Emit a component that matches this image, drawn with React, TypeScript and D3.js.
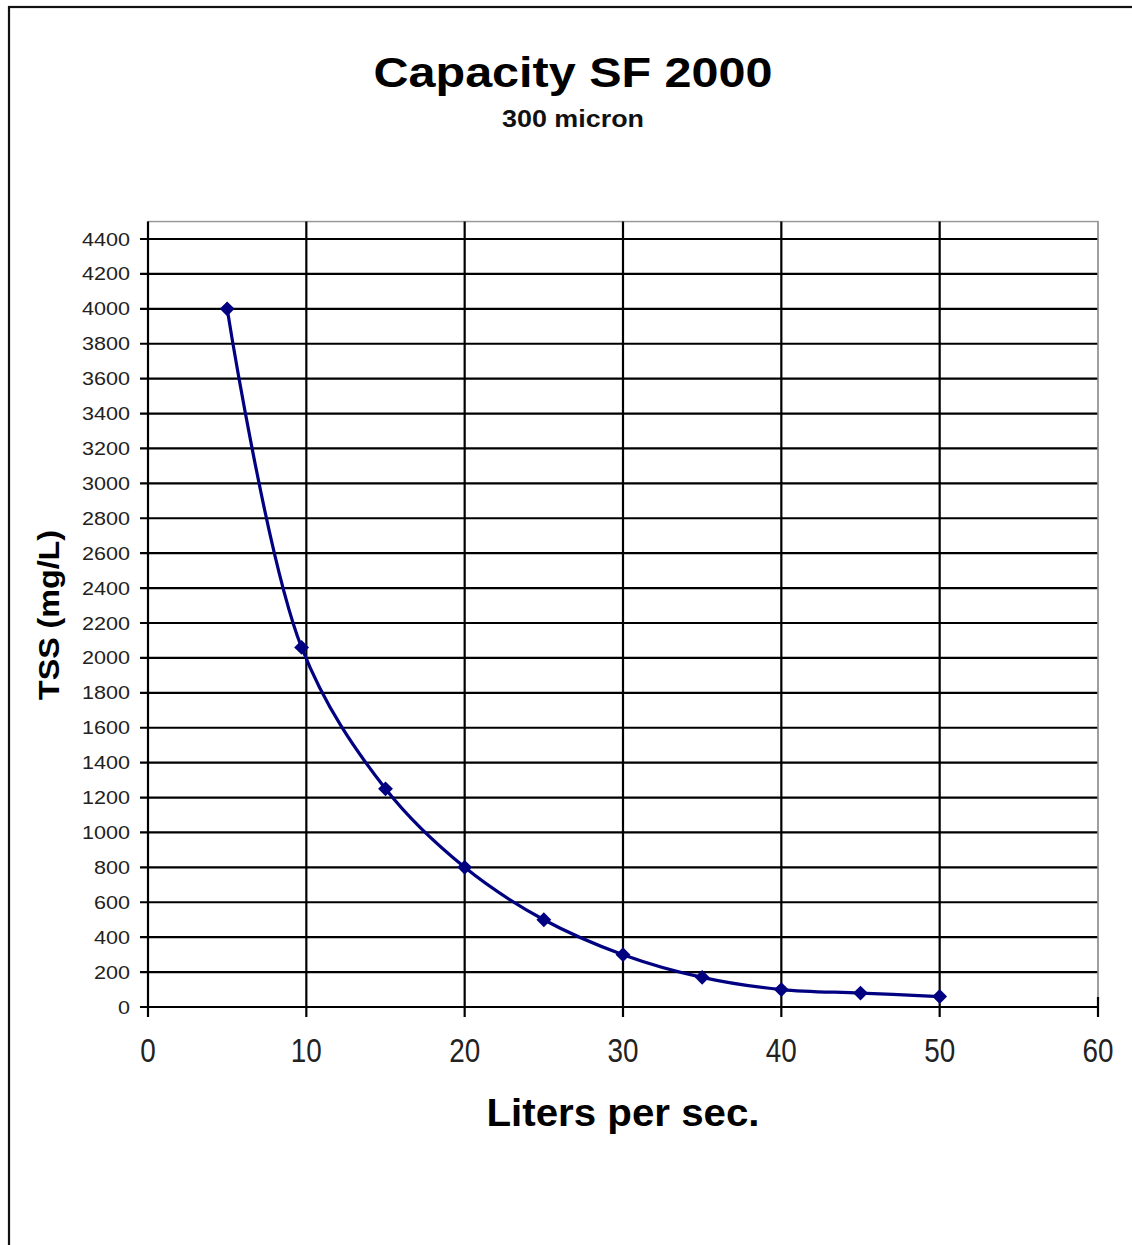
import React from "react";
import * as d3 from "d3";

const flowRates = [5, 9.7, 15, 20, 25, 30, 35, 40, 45, 50];
const tssValues = [4000, 2060, 1250, 800, 500, 300, 170, 100, 80, 60];
const xTicks = [0, 10, 20, 30, 40, 50, 60];
const yTicks = d3.range(0, 4401, 200);
const chartTitle = "Capacity SF 2000";
const chartSubtitle = "300 micron";
const xTitle = "Liters per sec.";
const yTitle = "TSS (mg/L)";

export default function App() {
  const W = 1132, H = 1245;
  const left = 148, right = 1098, bottom = 1007;
  const x = d3.scaleLinear().domain([0, 60]).range([left, right]);
  const y = d3.scaleLinear().domain([0, 4400]).range([bottom, 239]);
  const top = y(4500);
  const data = flowRates.map((f, i) => [f, tssValues[i]] as [number, number]);
  const line = d3.line<[number, number]>().x(d => x(d[0])).y(d => y(d[1])).curve(d3.curveCatmullRom.alpha(0.5));
  const diamond = d3.symbol().type(d3.symbolDiamond2).size(140)();
  const font = "'Liberation Sans', Arial, sans-serif";
  return (
    <svg width={W} height={H} style={{ position: "absolute", left: 0, top: 0, background: "#fff" }} fontFamily={font}>
      <rect x={0} y={0} width={W} height={H} fill="#fff" />
      <rect x={9} y={7} width={W + 20} height={H + 20} fill="none" stroke="#111" strokeWidth={2.2} />
      <text x={573} y={87} textAnchor="middle" fontSize={42} fontWeight="bold" fill="#000" textLength={399} lengthAdjust="spacingAndGlyphs">{chartTitle}</text>
      <text x={573} y={127} textAnchor="middle" fontSize={23} fontWeight="bold" fill="#111" textLength={142} lengthAdjust="spacingAndGlyphs">{chartSubtitle}</text>
      {/* plot border */}
      <rect x={left} y={top} width={right - left} height={bottom - top} fill="none" stroke="#999" strokeWidth={1.5} />
      {/* horizontal gridlines */}
      {yTicks.map(t => (
        <g key={"y" + t}>
          <line x1={left - 8} x2={right} y1={y(t)} y2={y(t)} stroke="#000" strokeWidth={2.2} />
          <text x={130} y={y(t) + 6.5} textAnchor="end" fontSize={19} fill="#222" textLength={String(t).length * 12} lengthAdjust="spacingAndGlyphs">{t}</text>
        </g>
      ))}
      {/* vertical gridlines */}
      {xTicks.map(t => (
        <g key={"x" + t}>
          <line x1={x(t)} x2={x(t)} y1={t === 60 ? bottom - 10 : top} y2={bottom + 10} stroke="#000" strokeWidth={2.2} />
          <text x={x(t)} y={1062} textAnchor="middle" fontSize={34} fill="#222" textLength={String(t).length * 15.5} lengthAdjust="spacingAndGlyphs">{t}</text>
        </g>
      ))}
      <line x1={right} x2={right} y1={top} y2={bottom - 10} stroke="#999" strokeWidth={1.5} />
      <text x={623} y={1126} textAnchor="middle" fontSize={39} fontWeight="bold" fill="#000" textLength={273} lengthAdjust="spacingAndGlyphs">{xTitle}</text>
      <text transform={`translate(59,615) rotate(-90)`} textAnchor="middle" fontSize={29} fontWeight="bold" fill="#000" textLength={170} lengthAdjust="spacingAndGlyphs">{yTitle}</text>
      <path d={line(data) || ""} fill="none" stroke="#000080" strokeWidth={3.2} />
      {data.map((d, i) => (
        <path key={i} d={diamond || ""} transform={`translate(${x(d[0])},${y(d[1])})`} fill="#000080" />
      ))}
    </svg>
  );
}
